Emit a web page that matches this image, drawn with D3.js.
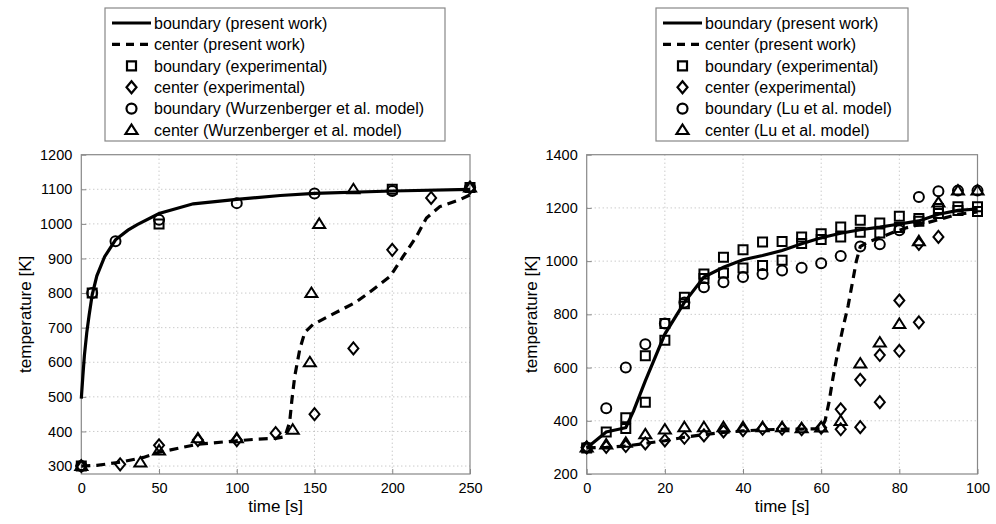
<!DOCTYPE html>
<meta charset="utf-8">
<script src="https://d3js.org/d3.v7.min.js"></script>
<style>
  body { margin: 0; background: #fff; }
  text { font-family: "Liberation Sans", Arial, sans-serif; fill: #000; }
  .grid line { stroke: #b4b4b4; stroke-width: 1; stroke-dasharray: 1,3; }
  .frame { fill: none; stroke: #888; stroke-width: 1.2; }
  .tick-mark { stroke: #888; stroke-width: 1; }
  .legend-box { fill: #fff; stroke: #888; stroke-width: 1.2; }
</style>
<body>
<svg id="chart" width="996" height="524"></svg>
<script>
// ---- left panel: comparison with Wurzenberger et al. ----
var leftXTicks = [0, 50, 100, 150, 200, 250];
var leftYTicks = [300, 400, 500, 600, 700, 800, 900, 1000, 1100, 1200];

var leftBoundaryModel = [[0,495],[1,560],[2,620],[3.5,685],[5,735],[7,795],[10,850],[15,905],[22,954],[30,982],
  [36,998],[50,1030],[72,1058],[100,1071],[128,1082],[150,1088],[200,1095],[250,1100]];
var leftCenterModel = [[0,300],[10,302],[25,311],[40,325],[50,340],[75,363],[100,373],[114,378],[125,380],[131,385],
  [134,427],[135.5,493],[137.3,560],[140.5,637],[143.7,686],[149,709],[160,735],[176,772],[183.5,796],[198.6,848],
  [207,906],[215.6,964],[222,1017],[230.6,1050],[243.5,1070],[250,1084]];
var leftBoundaryExp = [[0,300],[7,800],[50,1000],[200,1100],[250,1105]];
var leftCenterExp = [[0,300],[25,305],[50,360],[75,375],[100,375],[125,395],[150,450],[175,640],[200,925],[225,1075],[250,1105]];
var leftBoundaryRef = [[0,300],[7,800],[22,950],[50,1012],[100,1060],[150,1088],[200,1095],[250,1105]];
var leftCenterRef = [[0,300],[38,310],[50,345],[75,380],[100,380],[136,405],[147,600],[148,800],[153,1000],[175,1100],[250,1105]];
var leftLabels = ["boundary (present work)", "center (present work)", "boundary (experimental)",
  "center (experimental)", "boundary (Wurzenberger et al. model)", "center (Wurzenberger et al. model)"];

// ---- right panel: comparison with Lu et al. ----
var rightXTicks = [0, 20, 40, 60, 80, 100];
var rightYTicks = [200, 400, 600, 800, 1000, 1200, 1400];

var rightBoundaryModel = [[0,298],[5,358],[10,374],[12,437],[15,550],[20,726],[25,845],[30,940],[35,977],[40,1005],
  [45,1021],[50,1040],[55,1065],[60,1088],[65,1105],[70,1118],[75,1128],[78,1135],[85,1151],[90,1176],[95,1191],[100,1196]];
var rightCenterModel = [[0,298],[5,300],[10,305],[15,315],[20,325],[25,338],[30,348],[35,356],[40,362],[45,366],
  [50,368],[55,369],[60,370],[61,400],[62,470],[63,560],[64.3,663],[65.6,751],[66.9,833],[68,920],[69,1000],[70,1055],
  [72,1072],[75,1088],[78,1106],[82,1126],[86,1140],[91,1160],[95,1176],[100,1185]];
var rightBoundaryExp = [[0,298],[5,358],[10,371],[10,411],[15,470],[15,644],[20,703],[20,766],[25,840],[25,864],
  [30,935],[30,952],[35,955],[35,1015],[40,974],[40,1043],[45,984],[45,1072],[50,1003],[50,1074],[55,1066],[55,1091],
  [60,1081],[60,1103],[65,1091],[65,1128],[70,1109],[70,1154],[75,1106],[75,1143],[80,1126],[80,1169],[85,1150],
  [85,1160],[90,1179],[90,1198],[95,1190],[95,1204],[100,1187],[100,1204]];
var rightCenterExp = [[0,300],[5,302],[10,305],[15,315],[20,326],[25,336],[30,345],[35,360],[40,365],[45,370],
  [50,370],[55,368],[60,374],[65,368],[65,443],[70,376],[70,554],[75,470],[75,647],[80,663],[80,852],[85,770],
  [85,1065],[90,1091]];
var rightBoundaryRef = [[0,300],[5,447],[10,600],[15,688],[20,766],[25,845],[30,902],[35,921],[40,940],[45,952],
  [50,965],[55,975],[60,992],[65,1019],[70,1055],[75,1063],[80,1116],[85,1241],[90,1263],[95,1265],[100,1265]];
var rightCenterRef = [[0,300],[5,311],[10,317],[15,349],[20,367],[25,376],[30,376],[35,376],[40,376],[45,376],
  [50,376],[55,372],[60,375],[65,399],[70,615],[75,694],[80,764],[85,1075],[90,1220],[95,1265],[100,1265]];
var rightLabels = ["boundary (present work)", "center (present work)", "boundary (experimental)",
  "center (experimental)", "boundary (Lu et al. model)", "center (Lu et al. model)"];

var svg = d3.select("#chart");

// marker shapes, roughly like matlab 's', 'd', 'o', '^'
function markerPath(kind) {
  if (kind === "square") return "M-4.5,-4.5H4.5V4.5H-4.5Z";
  if (kind === "diamond") return "M0,-6L5,0L0,6L-5,0Z";
  if (kind === "circle") return "M5,0A5,5 0 1,1 -5,0A5,5 0 1,1 5,0Z";
  return "M0,-5.5L6,4L-6,4Z";
}

function drawPanel(p) {
  var g = svg.append("g");
  var x = d3.scaleLinear().domain(p.xDomain).range([p.left, p.right]);
  var y = d3.scaleLinear().domain(p.yDomain).range([p.bottom, p.top]);

  // dotted grid
  var grid = g.append("g").attr("class", "grid");
  grid.selectAll(".gx").data(p.xTicks.slice(1, -1)).enter().append("line")
    .attr("x1", d => x(d)).attr("x2", d => x(d)).attr("y1", p.top).attr("y2", p.bottom);
  grid.selectAll(".gy").data(p.yTicks.filter(d => y(d) > p.top + 1 && y(d) < p.bottom - 1)).enter().append("line")
    .attr("y1", d => y(d)).attr("y2", d => y(d)).attr("x1", p.left).attr("x2", p.right);

  // axes with inward ticks
  var xAxis = d3.axisBottom(x).tickValues(p.xTicks).tickFormat(d3.format("d")).tickSize(-5).tickPadding(9);
  var yAxis = d3.axisLeft(y).tickValues(p.yTicks).tickFormat(d3.format("d")).tickSize(-5).tickPadding(9);
  var ax = g.append("g").attr("transform", "translate(0," + p.bottom + ")").call(xAxis);
  var ay = g.append("g").attr("transform", "translate(" + p.left + ",0)").call(yAxis);
  [ax, ay].forEach(function (a) {
    a.select(".domain").remove();
    a.selectAll("line").attr("class", "tick-mark");
    a.selectAll("text").style("font-size", "14.5px").attr("fill", "#000");
  });
  g.append("rect").attr("class", "frame")
    .attr("x", p.left).attr("y", p.top).attr("width", p.right - p.left).attr("height", p.bottom - p.top);

  g.append("text").attr("x", (p.left + p.right) / 2).attr("y", 512)
    .attr("text-anchor", "middle").style("font-size", "17px").text("time [s]");
  g.append("text").attr("transform", "translate(" + (p.left - 50) + "," + ((p.top + p.bottom) / 2) + ") rotate(-90)")
    .attr("text-anchor", "middle").style("font-size", "17px").text("temperature [K]");

  var line = d3.line().x(d => x(d[0])).y(d => y(d[1]));
  g.append("path").datum(p.boundaryModel).attr("d", line)
    .attr("fill", "none").attr("stroke", "#000").attr("stroke-width", 3.2);
  g.append("path").datum(p.centerModel).attr("d", line)
    .attr("fill", "none").attr("stroke", "#000").attr("stroke-width", 3.2).attr("stroke-dasharray", "9,6");

  var sets = [[p.boundaryExp, "square"], [p.centerExp, "diamond"], [p.boundaryRef, "circle"], [p.centerRef, "triangle"]];
  sets.forEach(function (s) {
    g.append("g").selectAll("path").data(s[0]).enter().append("path")
      .attr("transform", d => "translate(" + x(d[0]) + "," + y(d[1]) + ")")
      .attr("d", markerPath(s[1]))
      .attr("fill", "none").attr("stroke", "#000").attr("stroke-width", 2);
  });

  // legend (box sits just above the axes)
  var lg = svg.append("g").attr("transform", "translate(" + p.legendX + ",0)");
  lg.append("rect").attr("class", "legend-box").attr("x", 0).attr("y", 8).attr("width", p.legendW).attr("height", 133);
  var kinds = ["solid", "dashed", "square", "diamond", "circle", "triangle"];
  p.labels.forEach(function (lab, i) {
    var cy = 23 + i * 21.4;
    if (kinds[i] === "solid" || kinds[i] === "dashed") {
      lg.append("line").attr("x1", 7).attr("x2", 46).attr("y1", cy).attr("y2", cy)
        .attr("stroke", "#000").attr("stroke-width", 3.2)
        .attr("stroke-dasharray", kinds[i] === "dashed" ? "8,6" : null);
    } else {
      lg.append("path").attr("transform", "translate(26.5," + cy + ")").attr("d", markerPath(kinds[i]))
        .attr("fill", "none").attr("stroke", "#000").attr("stroke-width", 2.2);
    }
    lg.append("text").attr("x", 49).attr("y", cy + 5.7).style("font-size", "16px").text(lab);
  });
}

drawPanel({
  left: 81.3, right: 470, top: 154.7, bottom: 474,
  xDomain: [0, 250], yDomain: [277, 1200], xTicks: leftXTicks, yTicks: leftYTicks,
  boundaryModel: leftBoundaryModel, centerModel: leftCenterModel,
  boundaryExp: leftBoundaryExp, centerExp: leftCenterExp,
  boundaryRef: leftBoundaryRef, centerRef: leftCenterRef,
  labels: leftLabels, legendX: 105, legendW: 340
});
drawPanel({
  left: 586.7, right: 977.5, top: 154.7, bottom: 474,
  xDomain: [0, 100], yDomain: [200, 1400], xTicks: rightXTicks, yTicks: rightYTicks,
  boundaryModel: rightBoundaryModel, centerModel: rightCenterModel,
  boundaryExp: rightBoundaryExp, centerExp: rightCenterExp,
  boundaryRef: rightBoundaryRef, centerRef: rightCenterRef,
  labels: rightLabels, legendX: 656, legendW: 252
});
</script>
</body>
